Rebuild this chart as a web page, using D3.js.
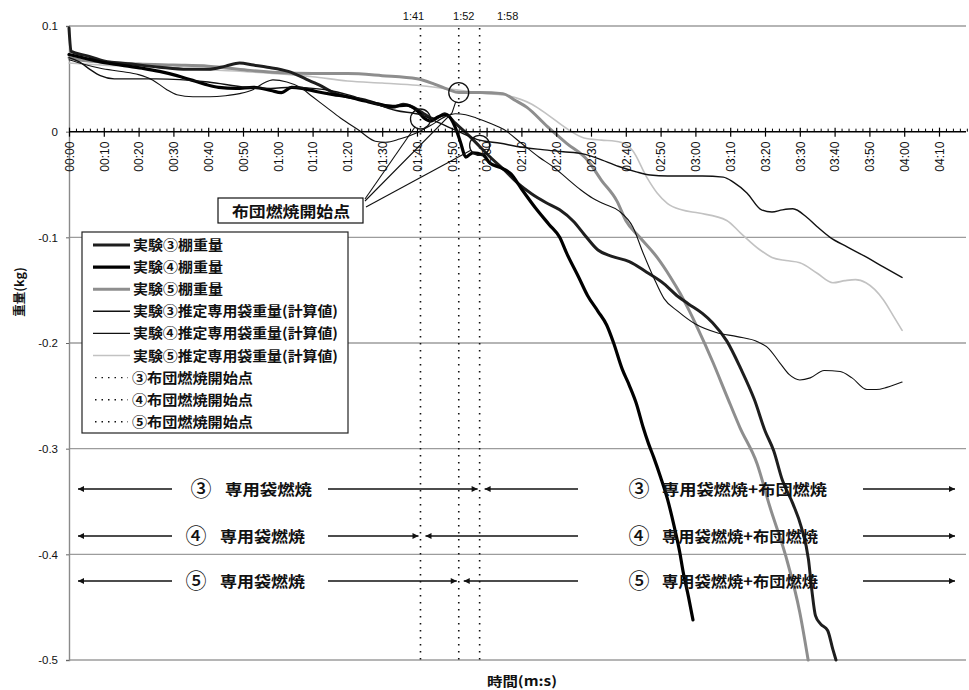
<!DOCTYPE html>
<html><head><meta charset="utf-8">
<script src="https://cdn.jsdelivr.net/npm/d3@7"></script>
<style>body{margin:0;background:#fff}svg{display:block}</style>
</head><body>
<svg id="c" width="969" height="690"></svg>
<script>
// ---------- DATA (time in seconds, weight in kg) ----------
const xTickValues = d3.range(0, 261, 10);
const xTickLabels = ["00:00","00:10","00:20","00:30","00:40","00:50","01:00","01:10","01:20","01:30","01:40","01:50","02:00","02:10","02:20","02:30","02:40","02:50","03:00","03:10","03:20","03:30","03:40","03:50","04:00","04:10","04:20"];
const yTickValues = [0.1, 0, -0.1, -0.2, -0.3, -0.4, -0.5];
const yTickLabels = ["0.1","0","-0.1","-0.2","-0.3","-0.4","-0.5"];

const shelf3 = [[0,0.098],[0.6,0.076],[5,0.072],[10,0.067],[18,0.064],[26,0.061],[34,0.059],[40,0.059],[45,0.062],[49,0.065],[53,0.063],[57,0.061],[63,0.057],[68,0.05],[72,0.044],[76,0.037],[80,0.033],[85,0.03],[89,0.026],[93,0.023],[96,0.026],[99,0.023],[102,0.017],[105,0.012],[108,0.017],[111,0.008],[115,-0.004],[118,-0.014],[121,-0.024],[125,-0.036],[129,-0.049],[133,-0.059],[137,-0.067],[141,-0.074],[145,-0.085],[148,-0.097],[152,-0.112],[156,-0.118],[161,-0.123],[166,-0.133],[171,-0.144],[175,-0.156],[178,-0.163],[182,-0.172],[185,-0.181],[189,-0.198],[193,-0.224],[197,-0.254],[200,-0.283],[202.5,-0.302],[205,-0.33],[208,-0.352],[210.5,-0.375],[212.5,-0.405],[213.5,-0.435],[214.5,-0.458],[216,-0.466],[218,-0.472],[219.5,-0.49],[220.4,-0.5]];
const shelf4 = [[0,0.073],[4,0.07],[9,0.066],[15,0.063],[21,0.06],[26,0.057],[31,0.053],[35,0.049],[39,0.045],[43,0.042],[48,0.041],[53,0.042],[58,0.039],[61,0.037],[64,0.042],[67,0.041],[71,0.038],[76,0.035],[80,0.033],[85,0.029],[89,0.026],[93,0.024],[97,0.025],[100,0.02],[102,0.013],[104,0.01],[106,0.014],[108.5,0.016],[111,0.004],[112.5,-0.01],[114,-0.024],[116,-0.02],[119,-0.022],[121,-0.03],[124,-0.034],[127,-0.04],[130,-0.054],[134,-0.072],[138,-0.088],[141,-0.1],[143,-0.115],[146.5,-0.138],[149,-0.155],[152,-0.17],[154.5,-0.183],[156.5,-0.2],[159,-0.225],[161,-0.24],[163,-0.257],[165,-0.28],[166.5,-0.295],[168,-0.308],[170,-0.327],[172,-0.348],[174,-0.375],[175.5,-0.398],[176.5,-0.417],[178,-0.44],[179.3,-0.462]];
const shelf5 = [[0,0.07],[5,0.067],[10,0.066],[20,0.064],[30,0.063],[40,0.062],[46,0.06],[52,0.058],[60,0.056],[70,0.055],[80,0.055],[90,0.053],[100,0.05],[105,0.045],[109,0.04],[112,0.037],[118,0.037],[124.7,0.036],[128,0.03],[131.6,0.023],[137.4,0.005],[143,-0.011],[149,-0.027],[153,-0.046],[157.5,-0.066],[160,-0.084],[164,-0.1],[169,-0.119],[172.7,-0.137],[175.6,-0.153],[178,-0.168],[180.5,-0.185],[185,-0.218],[189,-0.25],[192.8,-0.28],[197.7,-0.314],[201.4,-0.355],[206,-0.402],[210,-0.455],[212.4,-0.5]];
const bag3 = [[0,0.07],[3,0.066],[6,0.059],[9,0.053],[13,0.05],[25,0.05],[40,0.047],[51,0.042],[58,0.041],[64,0.042],[70,0.041],[75,0.039],[80,0.035],[85,0.03],[94,0.02],[101,0.016],[106.6,0.008],[112,0.0],[118,-0.008],[124,-0.011],[128.7,-0.014],[136,-0.017],[142,-0.019],[147.7,-0.021],[151.7,-0.025],[158,-0.033],[163,-0.038],[167,-0.041],[172,-0.042],[182,-0.042],[188,-0.043],[191,-0.048],[194.8,-0.058],[199,-0.074],[202,-0.076],[205,-0.074],[208,-0.073],[212,-0.081],[215,-0.09],[218.7,-0.1],[223.6,-0.109],[229.3,-0.119],[234,-0.128],[239.4,-0.138]];
const bag4 = [[0,0.068],[4,0.064],[9,0.06],[15,0.057],[20,0.054],[24,0.049],[28,0.04],[31,0.035],[35.6,0.033],[40.5,0.033],[45,0.034],[49,0.036],[53,0.04],[56,0.046],[58.6,0.049],[62.6,0.047],[66.4,0.042],[70,0.033],[74,0.023],[78,0.013],[83,0.002],[88,-0.009],[91,-0.01],[95,-0.007],[100,-0.001],[104,0.006],[108,0.014],[111,0.017],[114,0.016],[117,0.013],[121,0.008],[125,0.002],[130,-0.011],[135,-0.024],[139,-0.033],[143,-0.044],[147,-0.055],[150.5,-0.063],[153.5,-0.068],[158,-0.075],[162,-0.09],[165,-0.115],[168,-0.138],[171,-0.158],[175,-0.17],[180,-0.182],[186,-0.19],[192,-0.194],[198,-0.199],[201,-0.205],[204.3,-0.219],[207,-0.23],[210,-0.235],[213,-0.233],[217,-0.226],[221.6,-0.227],[225,-0.233],[229.3,-0.244],[232,-0.244],[235,-0.242],[239.4,-0.237]];
const bag5 = [[0,0.065],[10,0.063],[20,0.062],[30,0.06],[50,0.057],[70,0.052],[80,0.048],[90,0.046],[100,0.044],[110,0.04],[120,0.036],[126,0.034],[133,0.026],[138,0.015],[143,0.003],[148,-0.006],[153,-0.008],[157,-0.009],[160,-0.012],[162,-0.018],[166,-0.043],[169,-0.058],[172,-0.068],[176,-0.074],[181,-0.077],[189,-0.084],[193,-0.096],[198.6,-0.112],[202,-0.119],[206,-0.122],[210,-0.124],[215,-0.134],[219.5,-0.143],[223,-0.141],[226,-0.14],[229,-0.143],[234,-0.159],[237,-0.175],[239.4,-0.188]];

const seriesLabels = ["実験③棚重量","実験④棚重量","実験⑤棚重量","実験③推定専用袋重量(計算値)","実験④推定専用袋重量(計算値)","実験⑤推定専用袋重量(計算値)"];
const markerLabels = ["③布団燃焼開始点","④布団燃焼開始点","⑤布団燃焼開始点"];
const expNums = ["③","④","⑤"];
const burnTimes = [118, 101, 112];          // seconds
const burnLabels = ["1:58","1:41","1:52"];
const burnWeights = [-0.013, 0.012, 0.037]; // circled points
const phase1Text = "専用袋燃焼";
const phase2Text = "専用袋燃焼+布団燃焼";
const calloutText = "布団燃焼開始点";
const xTitle = "時間(m:s)";
const yTitle = "重量(kg)";

// ---------- LAYOUT / STYLE ----------
const W = 969, H = 690;
const svg = d3.select("#c");
svg.append("rect").attr("width", W).attr("height", H).attr("fill", "#fff");
const x = d3.scaleLinear().domain([0, 260]).range([69, 973.8]);
const y = d3.scaleLinear().domain([-0.5, 0.1]).range([660, 26]);
const xRight = 966;
const numFont = "'Liberation Sans', Arial, sans-serif";
const jpFont = "'Noto Sans CJK JP', 'Noto Sans', sans-serif";

const seriesStyle = [
  {data: shelf3, color: "#1e1e1e", w: 3.0},
  {data: shelf4, color: "#000", w: 3.2},
  {data: shelf5, color: "#8e8e8e", w: 3.0},
  {data: bag3, color: "#111", w: 1.4},
  {data: bag4, color: "#111", w: 1.1},
  {data: bag5, color: "#c2c2c2", w: 1.6}
];

// gridlines
svg.append("g").selectAll("line")
  .data(yTickValues.filter(d => d !== 0)).join("line")
  .attr("x1", x(0)).attr("x2", xRight)
  .attr("y1", d => y(d)).attr("y2", d => y(d))
  .attr("stroke", "#9c9c9c").attr("stroke-width", 1.4);

// y axis
const yAxis = svg.append("g").attr("transform", `translate(${x(0)},0)`)
  .call(d3.axisLeft(y).tickValues(yTickValues).tickFormat((d, i) => yTickLabels[i]).tickSize(3).tickPadding(8));
yAxis.select(".domain").attr("stroke", "#8a8a8a").attr("stroke-width", 1.4);
yAxis.selectAll(".tick line").attr("stroke", "#666");
yAxis.selectAll("text").attr("font-family", numFont).attr("font-size", 11.5).attr("fill", "#111");

// burn-start dotted verticals
svg.append("g").selectAll("line").data(burnTimes).join("line")
  .attr("x1", d => x(d)).attr("x2", d => x(d))
  .attr("y1", y(0.1) + 2).attr("y2", y(-0.5))
  .attr("stroke", "#111").attr("stroke-width", 1.6).attr("stroke-dasharray", "1.6,5.4");

// top labels of burn times
const topLabelDx = [28, -7, 5];
svg.append("g").selectAll("text").data(burnTimes).join("text")
  .attr("x", (d, i) => x(d) + topLabelDx[i]).attr("y", 20)
  .attr("text-anchor", "middle").attr("font-family", numFont).attr("font-size", 11)
  .attr("fill", "#111").text((d, i) => burnLabels[i]);

// series lines
const line = d3.line().x(d => x(d[0])).y(d => y(d[1])).curve(d3.curveMonotoneX);
const drawOrder = [5, 2, 0, 1, 3, 4];
svg.append("g").selectAll("path").data(drawOrder.map(i => seriesStyle[i])).join("path")
  .attr("d", d => line(d.data)).attr("fill", "none")
  .attr("stroke", d => d.color).attr("stroke-width", d => d.w)
  .attr("stroke-linejoin", "round").attr("stroke-linecap", "round");

// x axis at y=0
const xAxisG = svg.append("g").attr("transform", `translate(0,${y(0)})`)
  .call(d3.axisBottom(x).tickValues(xTickValues).tickFormat((d, i) => xTickLabels[i]).tickSizeOuter(0));
xAxisG.select(".domain").attr("stroke", "#000").attr("stroke-width", 1.5)
  .attr("d", `M${x(0)},0H${xRight}`);
xAxisG.selectAll(".tick line").attr("y1", -4).attr("y2", 5).attr("stroke", "#000").attr("stroke-width", 1.2);
xAxisG.selectAll(".tick text")
  .attr("transform", "rotate(-90)").attr("x", -10).attr("y", 0).attr("dy", "0.36em")
  .attr("text-anchor", "end").attr("font-family", numFont).attr("font-size", 12).attr("fill", "#111");
// minor ticks every 2 s
const minorTicks = d3.range(0, 261, 2).filter(d => d % 10 !== 0);
svg.append("g").attr("transform", `translate(0,${y(0)})`)
  .call(d3.axisBottom(x).tickValues(minorTicks).tickFormat("").tickSizeOuter(0).tickSizeInner(0))
  .call(g => g.select(".domain").remove())
  .call(g => g.selectAll(".tick line").attr("y1", -3).attr("y2", 0).attr("stroke", "#000").attr("stroke-width", 1));

// circles at burn starts
svg.append("g").selectAll("circle").data(burnTimes).join("circle")
  .attr("cx", d => x(d)).attr("cy", (d, i) => y(burnWeights[i])).attr("r", 10)
  .attr("fill", "none").attr("stroke", "#111").attr("stroke-width", 1.3);

// callout box
const box = {x: 218, y: 198, w: 145, h: 25};
const anchors = [[366, 207], [365, 199], [365, 201]];
const stemPts = [null, null, [452, 113]];
const callout = svg.append("g");
burnTimes.forEach((t, i) => {
  const cx = x(t), cy = y(burnWeights[i]);
  const [ax, ay] = anchors[i];
  const tgt = stemPts[i] || [ax, ay];
  let dx = tgt[0] - cx, dy = tgt[1] - cy;
  const L = Math.hypot(dx, dy);
  const ex = cx + dx / L * 10, ey = cy + dy / L * 10;
  const pts = stemPts[i] ? [[ax, ay], stemPts[i], [ex, ey]] : [[ax, ay], [ex, ey]];
  callout.append("path").attr("d", d3.line()(pts)).attr("fill", "none")
    .attr("stroke", "#111").attr("stroke-width", 1.1);
});
callout.append("rect").attr("x", box.x).attr("y", box.y).attr("width", box.w).attr("height", box.h)
  .attr("fill", "#fff").attr("stroke", "#111").attr("stroke-width", 1.2);
callout.append("text").attr("x", 232).attr("y", 216.5).attr("font-family", jpFont)
  .attr("font-weight", 700).attr("font-size", 15).attr("fill", "#111")
  .attr("textLength", 118).attr("lengthAdjust", "spacingAndGlyphs").text(calloutText);

// legend
const lg = svg.append("g");
lg.append("rect").attr("x", 82).attr("y", 232).attr("width", 266).attr("height", 201)
  .attr("fill", "#fff").attr("stroke", "#222").attr("stroke-width", 1.2);
const legendItems = seriesLabels.map((s, i) => ({label: s, style: seriesStyle[i], dotted: false}))
  .concat(markerLabels.map(s => ({label: s, style: {color: "#111", w: 1.4}, dotted: true})));
const textLens = [90, 90, 90, 205, 205, 205, 121, 121, 121];
legendItems.forEach((d, i) => {
  const yy = 245 + i * 22.1;
  lg.append("line").attr("x1", d.dotted ? 95 : 93).attr("x2", d.dotted ? 128 : 130)
    .attr("y1", yy).attr("y2", yy).attr("stroke", d.style.color)
    .attr("stroke-width", d.dotted ? 1.4 : d.style.w)
    .attr("stroke-dasharray", d.dotted ? "1.5,5" : null);
  lg.append("text").attr("x", d.dotted ? 132 : 133).attr("y", yy + 5)
    .attr("font-family", jpFont).attr("font-weight", 700).attr("font-size", 14).attr("fill", "#111")
    .attr("textLength", textLens[i]).attr("lengthAdjust", "spacingAndGlyphs").text(d.label);
});

// phase arrows
const defs = svg.append("defs");
defs.append("marker").attr("id", "ah").attr("viewBox", "0 0 10 10")
  .attr("refX", 10).attr("refY", 5).attr("markerWidth", 8).attr("markerHeight", 6)
  .attr("markerUnits", "userSpaceOnUse").attr("orient", "auto")
  .append("path").attr("d", "M0,0L10,5L0,10z").attr("fill", "#111");
const rowY = [489, 536, 581];
const row1Digit = [201, 196, 196];
const row1Text = [225, 220, 220];
const row1Len = [87, 85, 85];
const row2Len = [165, 156, 156];
const ag = svg.append("g");
function arrow(x1, x2, yy) {
  ag.append("line").attr("x1", x1).attr("x2", x2).attr("y1", yy).attr("y2", yy)
    .attr("stroke", "#111").attr("stroke-width", 1.3).attr("marker-end", "url(#ah)");
}
burnTimes.forEach((t, i) => {
  const yy = rowY[i];
  arrow(172, 78, yy);
  arrow(328, x(t) - 2, yy);
  arrow(578, x(t) + 5, yy);
  arrow(863, 955, yy);
  const tx = (xx, str, opts) => ag.append("text").attr("x", xx).attr("y", yy + (opts && opts.mid ? 6.5 : 5.5))
    .attr("font-family", jpFont).attr("font-weight", opts && opts.mid ? 500 : 700)
    .attr("font-size", opts && opts.mid ? 21 : 15).attr("fill", "#111")
    .attr("text-anchor", opts && opts.mid ? "middle" : "start")
    .attr("textLength", opts && opts.len ? opts.len : null)
    .attr("lengthAdjust", "spacingAndGlyphs").text(str);
  tx(row1Digit[i], expNums[i], {mid: true});
  tx(row1Text[i], phase1Text, {len: row1Len[i]});
  tx(639, expNums[i], {mid: true});
  tx(662, phase2Text, {len: row2Len[i]});
});

// axis titles
svg.append("text").attr("transform", "translate(24,292) rotate(-90)").attr("text-anchor", "middle")
  .attr("font-family", jpFont).attr("font-weight", 700).attr("font-size", 12.5).attr("fill", "#111").text(yTitle);
svg.append("text").attr("x", 487).attr("y", 686)
  .attr("font-family", jpFont).attr("font-weight", 700).attr("font-size", 13).attr("fill", "#111")
  .attr("textLength", 70).attr("lengthAdjust", "spacingAndGlyphs").text(xTitle);
</script>
</body></html>
